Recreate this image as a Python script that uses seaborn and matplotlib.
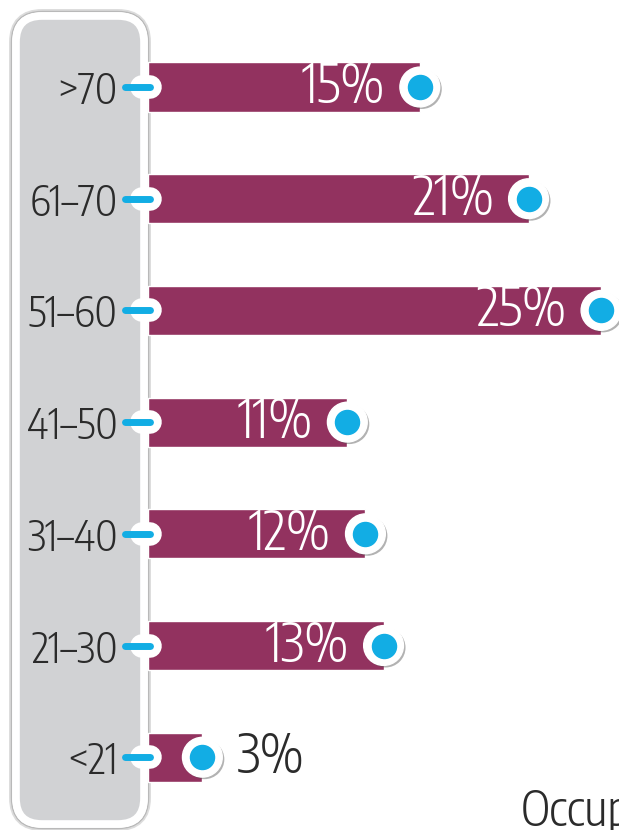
import numpy as np
import pandas as pd
import matplotlib
matplotlib.use("Agg")
import matplotlib.pyplot as plt
import matplotlib.patheffects as pe
from matplotlib.patches import FancyBboxPatch
import seaborn as sns

# data
age_groups = [">70", "61–70", "51–60", "41–50", "31–40", "21–30", "<21"]
shares = [15, 21, 25, 11, 12, 13, 3]
share_labels = ["15%", "21%", "25%", "11%", "12%", "13%", "3%"]

BAR = "#92325f"
BLUE = "#12ade4"
PANEL = "#d1d2d4"
INK = "#2b2b2b"

sns.set_style("white")
plt.rcParams["font.family"] = ["Encode Sans Condensed", "Fira Sans Condensed", "DejaVu Sans"]
plt.rcParams["font.weight"] = 300

W, H = 619, 830
fig = plt.figure(figsize=(W / 100, H / 100), dpi=100)

# background axes in pixel units for the grey label panel
bg = fig.add_axes([0, 0, 1, 1], zorder=0)
bg.set_xlim(0, W)
bg.set_ylim(H, 0)
bg.axis("off")
panel = FancyBboxPatch((16, 16), 128, 808, boxstyle="round,pad=0,rounding_size=26",
                       facecolor=PANEL, edgecolor="white", linewidth=5.5,
                       path_effects=[pe.withStroke(linewidth=10, foreground="#dcdcdc"),
                                     pe.withStroke(linewidth=7.5, foreground="#b9b9b9"),
                                     pe.Normal()])
bg.add_patch(panel)

# main axes: x=0 sits on the panel edge (px 148), 25% reaches px 601
px_per_unit = (601 - 148) / 25
ax = fig.add_axes([148 / W, 0, (W - 148) / W, 1], zorder=1)
ax.patch.set_alpha(0)

df = pd.DataFrame({"age": age_groups, "share": shares})
sns.barplot(data=df, x="share", y="age", order=age_groups, color=BAR,
            saturation=1, width=0.44, ax=ax)

ax.set_xlim(0, (W - 148) / px_per_unit)
step = 111.7
ax.set_ylim((H - 87) / step, -87 / step)
sns.despine(ax=ax, left=True, bottom=True)
ax.set_xlabel("")
ax.set_ylabel("")
ax.set_xticks([])
ax.set_yticks(range(len(age_groups)))
ax.set_yticklabels(age_groups, fontsize=30, color=INK)
ax.tick_params(axis="y", length=0, pad=22)

# blue tick connectors with the white notch from the panel border
ypos = np.arange(len(age_groups))
trans = matplotlib.transforms.blended_transform_factory(ax.transAxes, ax.transData)
ax_w = W - 148
for y in ypos:
    ax.plot([-6 / ax_w, 2 / ax_w], [y, y], transform=trans, color="white",
            lw=17, solid_capstyle="round", clip_on=False, zorder=3)
    ax.plot([-23 / ax_w, 2 / ax_w], [y, y], transform=trans, color=BLUE,
            lw=5, solid_capstyle="round", clip_on=False, zorder=4)

# end dots
shadow = [pe.SimplePatchShadow(offset=(1.5, -1.5), shadow_rgbFace="#555555", alpha=0.45), pe.Normal()]
ax.scatter(shares, ypos, s=820, color="white", zorder=5, clip_on=False, path_effects=shadow)
ax.scatter(shares, ypos, s=300, color=BLUE, zorder=6, clip_on=False)

# percentage labels
for v, y, lab in zip(shares, ypos, share_labels):
    if v >= 5:
        ax.annotate(lab, (v, y), xytext=(-25, 0), textcoords="offset points",
                    ha="right", va="center", fontsize=39, color="white", zorder=7)
    else:
        ax.annotate(lab, (v, y), xytext=(25, 0), textcoords="offset points",
                    ha="left", va="center", fontsize=39, color=INK, zorder=7)

# heading of the next panel, cut by the frame as in the original
fig.text(521 / W, 1 - 826 / H, "Occup", fontsize=35, color=INK,
         ha="left", va="baseline")

fig.savefig("out.png", dpi=100)
